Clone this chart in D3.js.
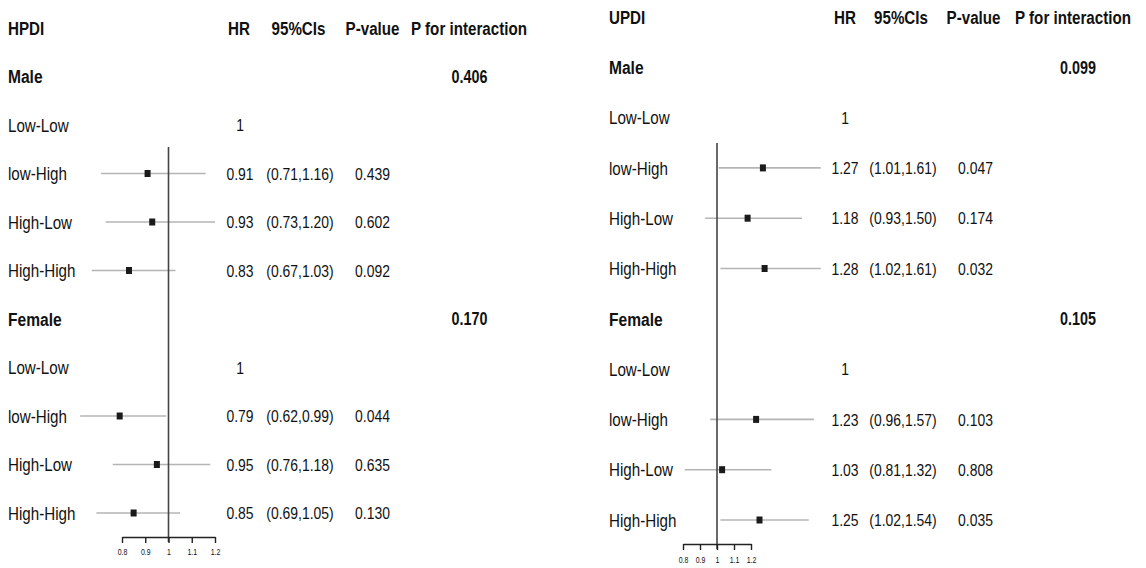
<!DOCTYPE html>
<html>
<head>
<meta charset="utf-8">
<script src="https://cdn.jsdelivr.net/npm/d3@7"></script>
<style>
  body { margin: 0; background: #fff; }
  svg text { font-family: "Liberation Sans", Arial, sans-serif; fill: #111; }
</style>
</head>
<body>
<svg id="chart" width="1146" height="568"></svg>
<script>
const sexes = ["Male", "Female"];
const subgroups = ["Low-Low", "low-High", "High-Low", "High-High"];
const headers = ["HR", "95%CIs", "P-value", "P for interaction"];
const axisTicks = [0.8, 0.9, 1, 1.1, 1.2];

// HPDI
const hpdiHR    = [[1, 0.91, 0.93, 0.83], [1, 0.79, 0.95, 0.85]];
const hpdiLower = [[null, 0.71, 0.73, 0.67], [null, 0.62, 0.76, 0.69]];
const hpdiUpper = [[null, 1.16, 1.20, 1.03], [null, 0.99, 1.18, 1.05]];
const hpdiP     = [[null, "0.439", "0.602", "0.092"], [null, "0.044", "0.635", "0.130"]];
const hpdiPint  = ["0.406", "0.170"];

// UPDI
const updiHR    = [[1, 1.27, 1.18, 1.28], [1, 1.23, 1.03, 1.25]];
const updiLower = [[null, 1.01, 0.93, 1.02], [null, 0.96, 0.81, 1.02]];
const updiUpper = [[null, 1.61, 1.50, 1.61], [null, 1.57, 1.32, 1.54]];
const updiP     = [[null, "0.047", "0.174", "0.032"], [null, "0.103", "0.808", "0.035"]];
const updiPint  = ["0.099", "0.105"];

const svg = d3.select("#chart");
const narrow = 0.82; // no condensed face installed, squeeze Liberation Sans instead

// text helper: narrow look via horizontal scale
function label(g, x, y, str, size, bold, anchor) {
  return g.append("text")
      .attr("transform", `translate(${x},${y}) scale(${narrow},1)`)
      .attr("dy", "0.36em")
      .attr("text-anchor", anchor || "start")
      .style("font-size", size + "px")
      .style("font-weight", bold ? "bold" : "normal")
      .text(str);
}

function drawPanel(cfg) {
  const g = svg.append("g");

  // flatten into rows: sex row + 4 subgroup rows, twice
  const rows = [];
  sexes.forEach((s, si) => {
    rows.push({type: "sex", label: s, pint: cfg.pint[si]});
    subgroups.forEach((sub, j) => {
      rows.push({
        type: "sub", label: sub,
        hr: cfg.hr[si][j], lo: cfg.lower[si][j], hi: cfg.upper[si][j], p: cfg.p[si][j]
      });
    });
  });

  const y = d3.scalePoint()
      .domain(d3.range(rows.length + 1))
      .range([cfg.top, cfg.bottom]);

  const x = d3.scaleLinear()
      .domain([0.8, 1.2])
      .range(cfg.xRange);

  // header
  label(g, cfg.labelX, y(0), cfg.title, 18.5, true);
  headers.forEach((h, i) => label(g, cfg.colHeadX[i], y(0), h, 18.5, true, "middle"));

  rows.forEach((r, i) => {
    const yy = y(i + 1);
    label(g, cfg.labelX, yy, r.label, r.type === "sex" ? 19 : 18.5, r.type === "sex");

    if (r.type === "sex") {
      label(g, cfg.colX[3], yy, r.pint, 17.5, true, "middle");
      return;
    }

    label(g, cfg.colX[0], yy, r.lo == null ? "1" : r.hr.toFixed(2), 17, false, "middle");
    if (r.lo == null) return;

    label(g, cfg.colX[1], yy, `(${r.lo.toFixed(2)},${r.hi.toFixed(2)})`, 17, false, "middle");
    label(g, cfg.colX[2], yy, r.p, 17, false, "middle");

    // CI line + point
    g.append("line")
        .attr("x1", x(r.lo)).attr("x2", x(r.hi))
        .attr("y1", yy).attr("y2", yy)
        .attr("stroke", "#b4b4b4").attr("stroke-width", 1.6);

    g.append("rect")
        .attr("x", x(r.hr) - 3).attr("y", yy - 3.5)
        .attr("width", 6).attr("height", 7)
        .attr("fill", "#1a1a1a");
  });

  // reference line at HR = 1
  g.append("line")
      .attr("x1", x(1)).attr("x2", x(1))
      .attr("y1", cfg.refTop).attr("y2", cfg.axisY + 5)
      .attr("stroke", "#444").attr("stroke-width", 1.6);

  // bottom axis
  const axis = g.append("g")
      .attr("transform", `translate(0,${cfg.axisY})`)
      .call(d3.axisBottom(x).tickValues(axisTicks).tickSize(6).tickSizeOuter(0).tickFormat(d3.format("")));
  axis.select(".domain").attr("stroke", "#222").attr("stroke-width", 1.4);
  axis.selectAll(".tick line").attr("stroke", "#222").attr("stroke-width", 1.4);
  axis.selectAll(".tick text")
      .attr("y", cfg.tickLabelDy)
      .attr("transform", `scale(${narrow},1)`)
      .style("font-size", "8.5px")
      .style("font-family", "\"Liberation Sans\", sans-serif")
      .attr("fill", "#222");
}

drawPanel({
  title: "HPDI",
  hr: hpdiHR, lower: hpdiLower, upper: hpdiUpper, p: hpdiP, pint: hpdiPint,
  labelX: 8, top: 28, bottom: 513,
  xRange: [122, 215],
  colHeadX: [239, 298.5, 372.5, 469],
  colX: [240, 300, 372.5, 469.5],
  refTop: 147, axisY: 537, tickLabelDy: 12
});

drawPanel({
  title: "UPDI",
  hr: updiHR, lower: updiLower, upper: updiUpper, p: updiP, pint: updiPint,
  labelX: 609, top: 17, bottom: 520,
  xRange: [683, 751],
  colHeadX: [845, 901, 973.5, 1073],
  colX: [845, 903, 975.5, 1078],
  refTop: 143, axisY: 544, tickLabelDy: 13
});
</script>
</body>
</html>
